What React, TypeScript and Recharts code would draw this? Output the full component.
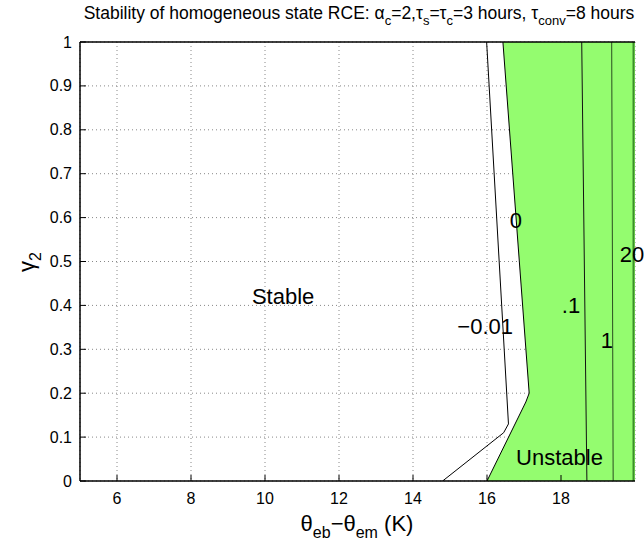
import React from 'react';
import {
  ComposedChart,
  Area,
  Line,
  XAxis,
  YAxis,
  CartesianGrid,
  ReferenceDot,
  ReferenceLine,
} from 'recharts';

// axis ticks
const xTicks = [6, 8, 10, 12, 14, 16, 18];
const yTicks = [0, 0.1, 0.2, 0.3, 0.4, 0.5, 0.6, 0.7, 0.8, 0.9, 1];
const yTickLabels = ['0', '0.1', '0.2', '0.3', '0.4', '0.5', '0.6', '0.7', '0.8', '0.9', '1'];

// contour lines (x = theta_eb - theta_em, y = gamma_2)
const zeroContour = [
  { x: 16.0, y: 0 },
  { x: 17.05, y: 0.18 },
  { x: 17.14, y: 0.2 },
  { x: 16.43, y: 1 },
];
const minusContour = [
  { x: 14.8, y: 0 },
  { x: 16.45, y: 0.11 },
  { x: 16.58, y: 0.13 },
  { x: 15.99, y: 1 },
];
const pointOneContour = [
  { x: 18.7, y: 0 },
  { x: 18.56, y: 1 },
];
const oneContour = [
  { x: 19.41, y: 0 },
  { x: 19.37, y: 1 },
];
const twentyContour = [
  { x: 19.96, y: 0 },
  { x: 19.96, y: 1 },
];

const contourLabels = [
  { text: '0', x: 16.78, y: 0.594 },
  { text: '\u22120.01', x: 15.95, y: 0.352 },
  { text: '.1', x: 18.27, y: 0.401 },
  { text: '1', x: 19.24, y: 0.321 },
  { text: '20', x: 19.92, y: 0.517 },
];
const regionLabels = [
  { text: 'Stable', x: 10.49, y: 0.42 },
  { text: 'Unstable', x: 17.96, y: 0.055 },
];

const FONT = '"Liberation Sans", Arial, Helvetica, sans-serif';
const GREEN = '#94fc6f';

const XTick = (props: any) => {
  const { x, y, payload } = props;
  return (
    <g>
      <line x1={x} x2={x} y1={y} y2={y - 6} stroke="#000" strokeWidth={1} />
      <text x={x} y={y + 17} textAnchor="middle" dominantBaseline="central" fontSize={16} fontFamily={FONT} fill="#000">
        {payload.value}
      </text>
    </g>
  );
};

const YTick = (props: any) => {
  const { x, y, payload } = props;
  const i = yTicks.indexOf(payload.value);
  return (
    <g>
      <line x1={x} x2={x + 6} y1={y} y2={y} stroke="#000" strokeWidth={1} />
      <text x={x - 8} y={y} textAnchor="end" dominantBaseline="central" fontSize={16} fontFamily={FONT} fill="#000">
        {i >= 0 ? yTickLabels[i] : payload.value}
      </text>
    </g>
  );
};

export default function App() {
  return (
    <div style={{ position: 'fixed', left: 0, top: 0, width: 644, height: 543, background: '#fff' }}>
      <ComposedChart
        layout="vertical"
        width={644}
        height={543}
        margin={{ top: 42, right: 9, bottom: 22, left: 40 }}
      >
        <CartesianGrid stroke="#888" strokeDasharray="1 3" />
        <XAxis
          type="number"
          domain={[5, 20]}
          ticks={xTicks}
          allowDataOverflow
          height={40}
          tickSize={0}
          tickMargin={0}
          tickLine={false}
          axisLine={{ stroke: '#000', strokeWidth: 1.5 }}
          tick={<XTick />}
        />
        <YAxis
          type="number"
          dataKey="y"
          domain={[0, 1]}
          ticks={yTicks}
          reversed
          allowDataOverflow
          width={40}
          tickSize={0}
          tickMargin={0}
          tickLine={false}
          axisLine={{ stroke: '#000', strokeWidth: 1.5 }}
          tick={<YTick />}
        />
        <Area
          data={zeroContour}
          dataKey="x"
          type="linear"
          baseValue={20}
          fill={GREEN}
          fillOpacity={1}
          stroke="#000"
          strokeWidth={1}
          isAnimationActive={false}
        />
        <Line data={minusContour} dataKey="x" type="linear" stroke="#000" strokeWidth={1} dot={false} isAnimationActive={false} />
        <Line data={pointOneContour} dataKey="x" type="linear" stroke="#111" strokeWidth={1} dot={false} isAnimationActive={false} />
        <Line data={oneContour} dataKey="x" type="linear" stroke="#2a4d20" strokeWidth={1} dot={false} isAnimationActive={false} />
        <Line data={twentyContour} dataKey="x" type="linear" stroke="#3b8f2a" strokeWidth={2} dot={false} isAnimationActive={false} />
        <ReferenceLine y={1} stroke="#000" strokeWidth={1.5} ifOverflow="visible" />
        {contourLabels.concat(regionLabels).map((l) => (
          <ReferenceDot
            key={l.text}
            x={l.x}
            y={l.y}
            r={0}
            fill="none"
            stroke="none"
            ifOverflow="visible"
            label={{ value: l.text, position: 'center', fontSize: 22, fontFamily: FONT, fill: '#000' }}
          />
        ))}
      </ComposedChart>
      <svg width={644} height={543} style={{ position: 'absolute', left: 0, top: 0, pointerEvents: 'none' }}>
        <text x={359} y={19} textAnchor="middle" fontSize={17.5} fontFamily={FONT} fill="#000">
          Stability of homogeneous state RCE: α
          <tspan fontSize={13} dy={6}>c</tspan>
          <tspan dy={-6}>=2,τ</tspan>
          <tspan fontSize={13} dy={6}>s</tspan>
          <tspan dy={-6}>=τ</tspan>
          <tspan fontSize={13} dy={6}>c</tspan>
          <tspan dy={-6}>=3 hours, τ</tspan>
          <tspan fontSize={13} dy={6}>conv</tspan>
          <tspan dy={-6}>=8 hours</tspan>
        </text>
        <text x={357} y={531} textAnchor="middle" fontSize={22} fontFamily={FONT} fill="#000">
          θ
          <tspan fontSize={16} dy={7}>eb</tspan>
          <tspan dy={-7}>−θ</tspan>
          <tspan fontSize={16} dy={7}>em</tspan>
          <tspan dy={-7}> (K)</tspan>
        </text>
        <text x={0} y={0} transform="translate(34,262) rotate(-90)" textAnchor="middle" fontSize={22} fontFamily={FONT} fill="#000">
          γ<tspan fontSize={16} dy={7}>2</tspan>
        </text>
      </svg>
    </div>
  );
}
